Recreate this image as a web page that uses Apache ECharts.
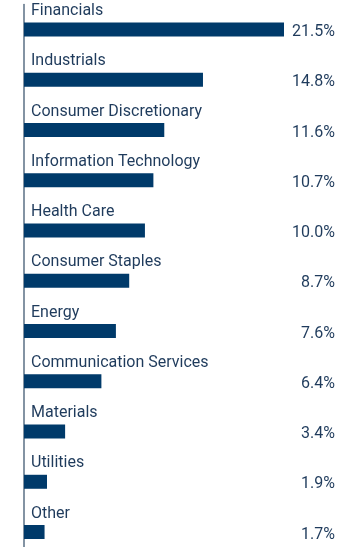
<!DOCTYPE html>
<html>
<head>
<meta charset="utf-8">
<script src="https://cdn.jsdelivr.net/npm/echarts@6/dist/echarts.min.js"></script>
<style>
html,body{margin:0;padding:0;background:#fff;width:360px;height:547px;overflow:hidden;}
#c{width:360px;height:560px;}
</style>
</head>
<body>
<div id="c"></div>
<script>
var categories = ["Financials","Industrials","Consumer Discretionary","Information Technology","Health Care","Consumer Staples","Energy","Communication Services","Materials","Utilities","Other"];
var values = [21.5,14.8,11.6,10.7,10.0,8.7,7.6,6.4,3.4,1.9,1.7];

var textColor = '#1f3b5c';
var chart = echarts.init(document.getElementById('c'), null, {renderer:'canvas'});
chart.setOption({
  animation:false,
  grid:{left:24, top:4.4, width:260, height:552.75},
  xAxis:{type:'value', min:0, max:21.5, show:false},
  yAxis:[{
    type:'category', inverse:true, data:categories,
    axisLine:{show:true, lineStyle:{color:'#5a6f84', width:1.5}},
    axisTick:{show:false}, axisLabel:{show:false}
  },{
    type:'category', inverse:true, data:categories, position:'right',
    axisLine:{show:false}, axisTick:{show:false},
    axisLabel:{
      show:true, margin:51, align:'right', verticalAlign:'middle',
      fontFamily:'Roboto', fontSize:16, color:textColor,
      formatter:function(v, i){ return '{v|' + values[i].toFixed(1) + '%}'; },
      rich:{v:{fontFamily:'Roboto', fontSize:16, color:textColor, lineHeight:16, padding:[5,0,0,0]}}
    }
  }],
  series:[{
    type:'bar', data:values, barWidth:14, yAxisIndex:0,
    itemStyle:{color:'#003a6a'},
    label:{
      show:true, position:[7,-3.5], align:'left', verticalAlign:'bottom',
      lineHeight:16,
      fontFamily:'Roboto', fontSize:16, color:textColor,
      formatter:function(p){ return p.name; }
    }
  }]
});
</script>
</body>
</html>
